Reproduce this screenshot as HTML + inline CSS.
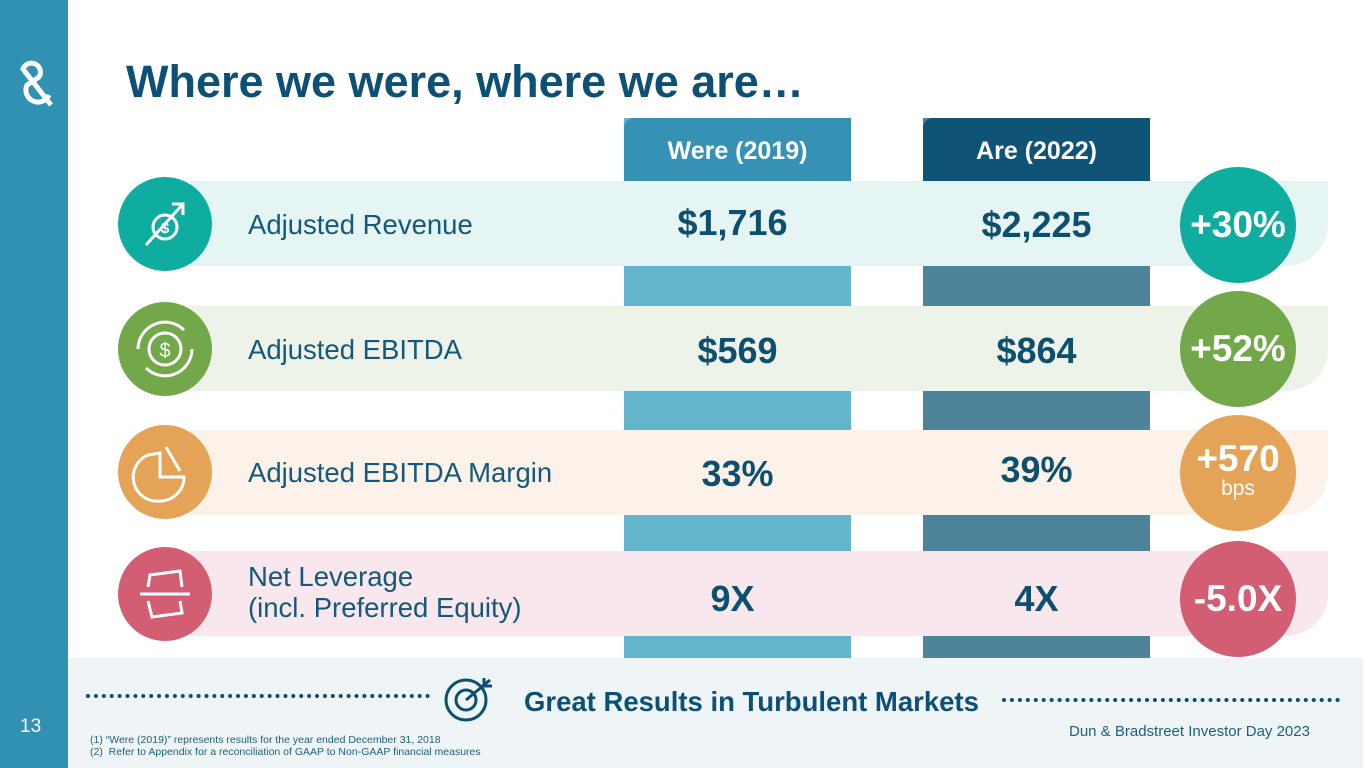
<!DOCTYPE html>
<html><head><meta charset="utf-8"><style>
*{margin:0;padding:0;box-sizing:border-box}
body{width:1365px;height:768px;position:relative;overflow:hidden;background:#fff;font-family:"Liberation Sans",sans-serif;color:#0d4f6e}
.abs{position:absolute}
.band{position:absolute;left:190px;width:1138px;height:85px;border-bottom-right-radius:42px}
.lab{position:absolute;left:248px;font-size:27.5px;color:#15587a;line-height:31px}
.val{position:absolute;font-size:36px;font-weight:bold;color:#0d4f6e;text-align:center;width:227px}
.lc{position:absolute;width:94px;height:94px;border-radius:50%;left:118px}
.rc{position:absolute;width:116px;height:116px;border-radius:50%;left:1180px;color:#fff;font-weight:bold;font-size:37px;text-align:center}
</style></head><body>
<div class="abs" style="left:0;top:0;width:68px;height:768px;background:#3191b3"></div>
<svg class="abs" style="left:15px;top:55px" width="42" height="56" viewBox="0 0 42 56"><g fill="none" stroke="#fff" stroke-width="5"><path d="M36 50 L8 14 A9 9 0 1 1 24 22 L12 30 A11 11 0 1 0 34 40"/></g></svg>
<div class="abs" style="left:20px;top:716px;color:#fff;font-size:19px">13</div>
<div class="abs" style="left:126px;top:56px;font-size:45px;font-weight:bold;color:#0d5075">Where we were, where we are…</div>

<div class="abs" style="left:624px;top:118px;width:227px;height:540px;background:#63b5cc"></div>
<div class="abs" style="left:923px;top:118px;width:227px;height:540px;background:#4e8499"></div>
<div class="abs" style="left:624px;top:118px;width:227px;height:63px;background:#3592b5;border-top-left-radius:10px;color:#fff;font-weight:bold;font-size:25px;text-align:center;line-height:66px">Were (2019)</div>
<div class="abs" style="left:923px;top:118px;width:227px;height:63px;background:#0f5476;border-top-left-radius:10px;color:#fff;font-weight:bold;font-size:25px;text-align:center;line-height:66px">Are (2022)</div>

<div class="band" style="top:181px;background:#e5f5f4"></div>
<div class="band" style="top:306px;background:#edf3e9"></div>
<div class="band" style="top:430px;background:#fdf2ea"></div>
<div class="band" style="top:551px;background:#f8e7ed"></div>

<div class="lc" style="top:177px;background:#0fada0"><svg width="94" height="94"><g fill="none" stroke="#fff" stroke-width="3"><circle cx="47" cy="50" r="12"/><path d="M28 68 L64 28 M54 27 L65 27 L65 38"/></g><text x="47" y="56" font-size="15" font-weight="bold" fill="#fff" text-anchor="middle">$</text></svg></div>
<div class="lc" style="top:302px;background:#72a84a"><svg width="94" height="94"><g fill="none" stroke="#fff" stroke-width="3"><circle cx="47" cy="47" r="16"/><path d="M20 47 A27 27 0 0 1 66 28 M74 47 A27 27 0 0 1 28 66"/></g><text x="47" y="55" font-size="20" fill="#fff" text-anchor="middle">$</text></svg></div>
<div class="lc" style="top:425px;background:#e5a357"><svg width="94" height="94"><g fill="none" stroke="#fff" stroke-width="3"><path d="M42 28 L42 52 L66 52 A24 24 0 0 1 42 76 A24 24 0 0 1 30 30 Z M48 22 L62 46"/></g></svg></div>
<div class="lc" style="top:547px;background:#d35d73"><svg width="94" height="94"><g fill="none" stroke="#fff" stroke-width="3"><path d="M22 47 L72 47 M30 40 L32 28 L62 24 L64 40 M30 54 L34 70 L64 66 L62 54"/></g></svg></div>

<div class="lab" style="top:209px">Adjusted Revenue</div>
<div class="lab" style="top:334px">Adjusted EBITDA</div>
<div class="lab" style="top:457px">Adjusted EBITDA Margin</div>
<div class="lab" style="top:561px">Net Leverage<br>(incl. Preferred Equity)</div>

<div class="val" style="left:619px;top:202px">$1,716</div>
<div class="val" style="left:923px;top:204px">$2,225</div>
<div class="val" style="left:624px;top:330px">$569</div>
<div class="val" style="left:923px;top:330px">$864</div>
<div class="val" style="left:624px;top:453px">33%</div>
<div class="val" style="left:923px;top:449px">39%</div>
<div class="val" style="left:619px;top:578px">9X</div>
<div class="val" style="left:923px;top:578px">4X</div>

<div class="rc" style="top:167px;background:#0fada0;line-height:116px">+30%</div>
<div class="rc" style="top:291px;background:#72a84a;line-height:116px">+52%</div>
<div class="rc" style="top:415px;background:#e5a357;padding-top:26px;line-height:36px">+570<div style="font-size:21px;font-weight:normal;line-height:24px">bps</div></div>
<div class="rc" style="top:541px;background:#d35d73;line-height:116px">-5.0X</div>

<div class="abs" style="left:68px;top:658px;width:1295px;height:110px;background:#eff4f7"></div>
<div class="abs" style="left:86px;top:694px;width:344px;border-top:4px dotted #0d4f6e"></div>
<div class="abs" style="left:1002px;top:698px;width:338px;border-top:4px dotted #0d4f6e"></div>
<svg class="abs" style="left:442px;top:674px" width="56" height="50"><g fill="none" stroke="#0d4f6e" stroke-width="3"><circle cx="24" cy="26" r="20"/><circle cx="24" cy="26" r="10"/><path d="M24 26 L48 6 M42 4 L42 12 L50 12"/></g></svg>
<div class="abs" style="left:524px;top:686px;font-size:27.5px;font-weight:bold;color:#0d5075">Great Results in Turbulent Markets</div>
<div class="abs" style="left:90px;top:734px;font-size:10.5px;line-height:12px;color:#1f5f7c">(1) “Were (2019)” represents results for the year ended December 31, 2018<br>(2)&nbsp; Refer to Appendix for a reconciliation of GAAP to Non-GAAP financial measures</div>
<div class="abs" style="left:1069px;top:723px;font-size:15px;color:#1f5f7c">Dun &amp; Bradstreet Investor Day 2023</div>
</body></html>
